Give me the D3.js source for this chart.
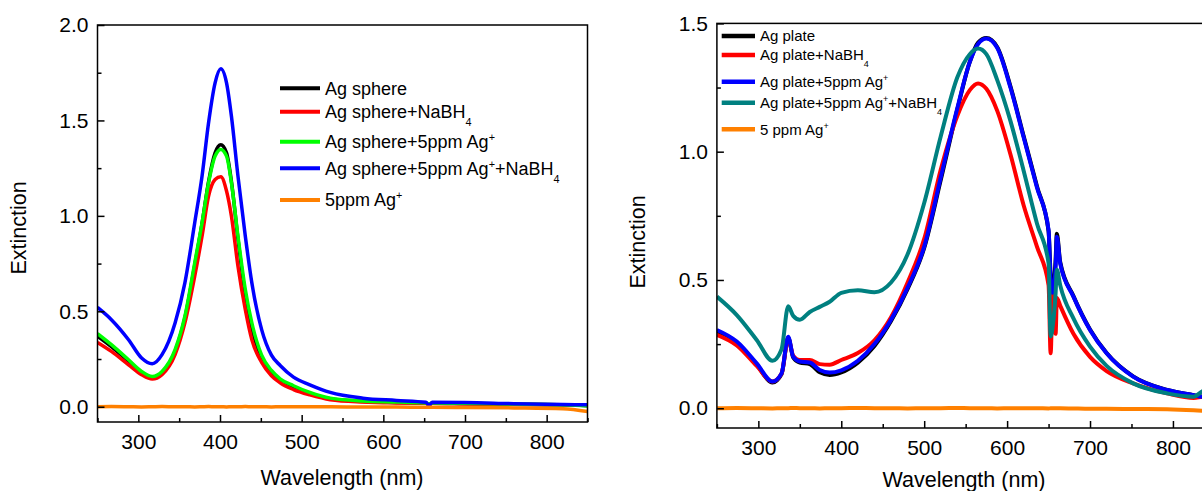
<!DOCTYPE html>
<html><head><meta charset="utf-8">
<script src="https://cdn.jsdelivr.net/npm/d3@7"></script>
<style>body{margin:0;background:#fff}svg{display:block}text{font-family:"Liberation Sans",Arial,sans-serif;fill:#000}</style>
</head><body><svg id="c" width="1202" height="491"></svg>
<script>
// ---------- Left panel data (Ag sphere) ----------
const leftWL = [250,267,288,304,317,329,345,357,369,378,386,394,401,408,414,422,431,439,451,463,474,490,510,535,575,616,652,656,660,700,760,820,850];
const leftBlack = [0.37,0.315,0.238,0.178,0.152,0.178,0.29,0.465,0.74,0.96,1.18,1.33,1.372,1.33,1.18,0.88,0.585,0.41,0.25,0.175,0.135,0.1,0.07,0.042,0.028,0.022,0.018,0.012,0.018,0.016,0.013,0.01,0.005];
const leftRed = [0.337,0.29,0.22,0.168,0.145,0.168,0.273,0.439,0.683,0.893,1.103,1.19,1.205,1.13,0.998,0.736,0.509,0.351,0.232,0.162,0.124,0.09,0.062,0.037,0.025,0.02,0.018,0.012,0.018,0.015,0.012,0.01,0.01];
const leftGreen = [0.383,0.325,0.246,0.185,0.159,0.185,0.299,0.474,0.753,0.963,1.173,1.313,1.348,1.313,1.173,0.893,0.614,0.439,0.27,0.19,0.145,0.11,0.075,0.045,0.03,0.025,0.02,0.015,0.02,0.018,0.014,0.01,0.005];
const leftBlue = [0.52,0.456,0.351,0.255,0.225,0.273,0.439,0.649,0.963,1.208,1.488,1.697,1.771,1.697,1.522,1.208,0.893,0.649,0.404,0.27,0.215,0.155,0.115,0.075,0.045,0.033,0.023,0.008,0.023,0.022,0.016,0.012,0.01];
const leftOrange = [0,0.001,0,-0.001,0,0.001,0,0,-0.001,0,0.001,0,0,-0.001,0,0,0.001,0,0,-0.001,0,0,0,0,-0.002,-0.002,-0.003,-0.003,-0.003,-0.004,-0.006,-0.01,-0.025];
const leftLabels = ["Ag sphere","Ag sphere+NaBH4","Ag sphere+5ppm Ag+","Ag sphere+5ppm Ag+ +NaBH4","5ppm Ag+"];

// ---------- Right panel data (Ag plate) ----------
const rightWL = [250,274,298,317,328,336,342,350,362,374,386,400,420,440,460,480,500,520,540,555,565,575,588,604,620,636,650,652.5,655,658.5,660,664,680,700,720,752,793,825,835,850];
const rightBlack = [0.3,0.255,0.17,0.1,0.133,0.275,0.198,0.178,0.172,0.14,0.13,0.14,0.178,0.243,0.34,0.465,0.625,0.89,1.165,1.35,1.425,1.443,1.408,1.255,1.06,0.865,0.69,0.52,0.46,0.58,0.68,0.57,0.437,0.307,0.215,0.124,0.071,0.051,0.045,0.04];
const rightRed = [0.286,0.245,0.165,0.104,0.135,0.27,0.205,0.188,0.188,0.172,0.17,0.188,0.215,0.265,0.355,0.49,0.66,0.93,1.14,1.24,1.266,1.245,1.16,0.99,0.79,0.63,0.48,0.214,0.45,0.29,0.43,0.4,0.29,0.2,0.145,0.097,0.058,0.04,0.045,0.05];
const rightBlue = [0.305,0.26,0.175,0.104,0.136,0.279,0.201,0.182,0.178,0.149,0.139,0.148,0.185,0.25,0.345,0.47,0.63,0.9,1.17,1.35,1.42,1.441,1.405,1.25,1.055,0.86,0.695,0.5,0.45,0.55,0.668,0.565,0.435,0.305,0.214,0.123,0.071,0.051,0.045,0.04];
const rightTeal = [0.435,0.363,0.266,0.185,0.23,0.398,0.36,0.345,0.375,0.395,0.415,0.45,0.46,0.452,0.49,0.6,0.8,1.06,1.29,1.38,1.402,1.38,1.28,1.12,0.925,0.72,0.565,0.28,0.32,0.45,0.54,0.48,0.35,0.24,0.165,0.097,0.058,0.045,0.065,0.08];
const rightOrange = [0,0.001,0,-0.001,0,0,0.001,0,0,-0.001,0,0,0.001,0,0,-0.001,0,0,0.001,0,0,0,-0.001,0,0,0,-0.001,0,0,0,0,0,-0.001,-0.002,-0.002,-0.003,-0.004,-0.008,-0.01,-0.012];
const rightLabels = ["Ag plate","Ag plate+NaBH4","Ag plate+5ppm Ag+","Ag plate+5ppm Ag+ +NaBH4","5 ppm Ag+"];

const xTicks = [300,400,500,600,700,800];
const xMinor = [250,350,450,550,650,750,850];
const leftYTicks = [0,0.5,1.0,1.5,2.0];
const leftYMinor = [0.25,0.75,1.25,1.75];
const rightYTicks = [0,0.5,1.0,1.5];
const rightYMinor = [0.25,0.75,1.25];

const svg = d3.select("#c");

function richLabel(sel, label, fs){
  const parts = [];
  const re = /(Ag\+)|(NaBH4)/g; let last = 0, m;
  while((m = re.exec(label))){
    if(m.index>last) parts.push({t:label.slice(last,m.index)});
    if(m[1]) { parts.push({t:"Ag"}); parts.push({t:"+",sup:true}); }
    else { parts.push({t:"NaBH"}); parts.push({t:"4",sub:true}); }
    last = re.lastIndex;
  }
  if(last<label.length) parts.push({t:label.slice(last)});
  let shift = 0;
  parts.forEach(p=>{
    let t = p.t;
    if(t.startsWith(" +")) t = t.slice(1);
    const ts = sel.append("tspan").text(t);
    let target = 0;
    if(p.sup){ ts.attr("font-size",fs*0.6); target = -fs*0.4; }
    else if(p.sub){ ts.attr("font-size",fs*0.6); target = fs*0.45; }
    ts.attr("dy", target - shift); shift = target;
  });
}

function panel(cfg){
  const x = d3.scaleLinear().domain([250,850]).range(cfg.xr);
  const y = d3.scaleLinear().domain(cfg.yd).range(cfg.yr);
  const g = svg.append("g");
  const clipId = "clip"+cfg.id;
  svg.append("clipPath").attr("id",clipId).append("rect")
    .attr("x",cfg.xr[0]).attr("y",cfg.yr[1]).attr("width",cfg.xr[1]-cfg.xr[0]).attr("height",cfg.yr[0]-cfg.yr[1]);
  const line = d3.line().x((d,i)=>x(cfg.wl[i])).y(d=>y(d)).curve(d3.curveMonotoneX);
  const lg = g.append("g").attr("clip-path",`url(#${clipId})`);
  cfg.series.forEach(s=>{
    lg.append("path").attr("d",line(s.v)).attr("fill","none").attr("stroke",s.c)
      .attr("stroke-width",cfg.lw).attr("stroke-linejoin","round");
  });
  g.append("rect").attr("x",cfg.xr[0]).attr("y",cfg.yr[1]).attr("width",cfg.xr[1]-cfg.xr[0]).attr("height",cfg.yr[0]-cfg.yr[1])
    .attr("fill","none").attr("stroke","#000").attr("stroke-width",1.5);
  const xa = g.append("g").attr("transform",`translate(0,${cfg.yr[0]})`)
    .call(d3.axisBottom(x).tickValues(xTicks).tickSize(-7).tickFormat(d3.format("d")));
  xa.select(".domain").remove();
  xa.selectAll("line").attr("stroke-width",1.5);
  xa.selectAll("text").attr("font-size",cfg.tfs).attr("font-family","Liberation Sans, Arial").attr("dy","0.71em").attr("y",12);
  const xm = g.append("g").attr("transform",`translate(0,${cfg.yr[0]})`)
    .call(d3.axisBottom(x).tickValues(xMinor).tickSize(-4).tickFormat(""));
  xm.select(".domain").remove(); xm.selectAll("line").attr("stroke-width",1.5);
  const ya = g.append("g").attr("transform",`translate(${cfg.xr[0]},0)`)
    .call(d3.axisLeft(y).tickValues(cfg.yt).tickSize(-7).tickFormat(d3.format(".1f")));
  ya.select(".domain").remove();
  ya.selectAll("line").attr("stroke-width",1.5);
  ya.selectAll("text").attr("font-size",cfg.tfs).attr("font-family","Liberation Sans, Arial").attr("x",-9);
  const ym = g.append("g").attr("transform",`translate(${cfg.xr[0]},0)`)
    .call(d3.axisLeft(y).tickValues(cfg.ym).tickSize(-4).tickFormat(""));
  ym.select(".domain").remove(); ym.selectAll("line").attr("stroke-width",1.5);
  g.append("text").attr("x",cfg.xt[0]).attr("y",cfg.xt[1]).attr("text-anchor","middle").attr("font-size",cfg.afs).text("Wavelength (nm)");
  g.append("text").attr("transform",`translate(${cfg.yt2[0]},${cfg.yt2[1]}) rotate(-90)`).attr("text-anchor","middle")
    .attr("dy","0.35em").attr("font-size",cfg.afs).text("Extinction");
  cfg.series.forEach((s,i)=>{
    const cy = cfg.leg.rows[i];
    g.append("line").attr("x1",cfg.leg.x1).attr("x2",cfg.leg.x2).attr("y1",cy).attr("y2",cy)
      .attr("stroke",s.c).attr("stroke-width",cfg.leg.lw);
  });
  cfg.series.forEach((s,i)=>{
    const cy = cfg.leg.rows[i];
    const t = g.append("text").attr("x",cfg.leg.tx).attr("y",cy+cfg.leg.fs*0.36).attr("font-size",cfg.leg.fs);
    richLabel(t, cfg.labels[i], cfg.leg.fs);
  });
}

panel({id:"L", wl:leftWL, xr:[97.5,587.5], yd:[-0.08,2.0], yr:[422,25], yt:leftYTicks, ym:leftYMinor,
  lw:3.5, tfs:21, afs:21.5, xt:[342,485], yt2:[18,228],
  series:[{v:leftBlack,c:"#000000"},{v:leftRed,c:"#ff0000"},{v:leftGreen,c:"#00ff00"},{v:leftBlue,c:"#0000ff"},{v:leftOrange,c:"#ff8000"}],
  labels:leftLabels,
  leg:{x1:280,x2:320,tx:325,fs:18,lw:4,rows:[88.3,111.7,141.7,168.3,200]}});

panel({id:"R", wl:rightWL, xr:[716.9,1214.4], yd:[-0.077,1.5], yr:[428,23.4], yt:rightYTicks, ym:rightYMinor,
  lw:4, tfs:21, afs:21.5, xt:[964,487], yt2:[637,242],
  series:[{v:rightBlack,c:"#000000"},{v:rightRed,c:"#ff0000"},{v:rightBlue,c:"#0000ff"},{v:rightTeal,c:"#008080"},{v:rightOrange,c:"#ff8000"}],
  labels:rightLabels,
  leg:{x1:721.7,x2:755,tx:760,fs:15,lw:4.5,rows:[36,55,81.7,102.7,129.3]}});
</script></body></html>
